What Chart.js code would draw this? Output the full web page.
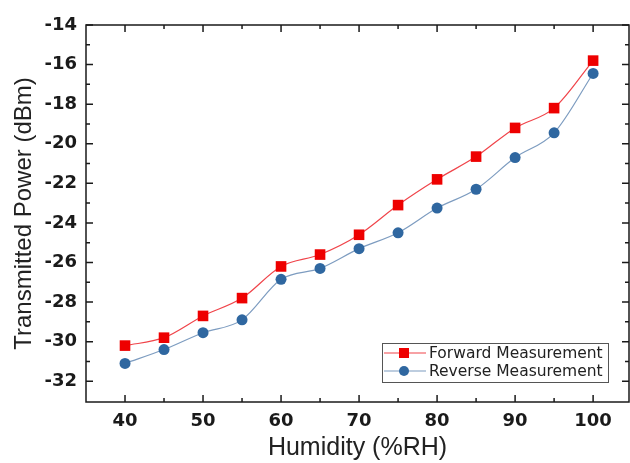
<!DOCTYPE html>
<html>
<head>
<meta charset="utf-8">
<script src="https://cdn.jsdelivr.net/npm/chart.js@4/dist/chart.umd.min.js"></script>
<style>
  html, body { margin: 0; padding: 0; background: #fff; }
  #wrap { width: 630px; height: 463px; }
</style>
</head>
<body>
<div id="wrap"><canvas id="myChart" width="630" height="463"></canvas></div>
<script>
"use strict";
// data
var humidity = [40, 45, 50, 55, 60, 65, 70, 75, 80, 85, 90, 95, 100];
var forward = [-30.2, -29.8, -28.7, -27.8, -26.2, -25.6, -24.6, -23.1, -21.8, -20.65, -19.2, -18.2, -15.8];
var reverse = [-31.1, -30.4, -29.55, -28.9, -26.85, -26.3, -25.3, -24.5, -23.25, -22.3, -20.7, -19.45, -16.45];

var xTicks = [40, 50, 60, 70, 80, 90, 100];
var xMinorTicks = [45, 55, 65, 75, 85, 95];
var yTicks = [-32, -30, -28, -26, -24, -22, -20, -18, -16, -14];
var yMinorTicks = [-31, -29, -27, -25, -23, -21, -19, -17, -15];

var seriesNames = ["Forward Measurement", "Reverse Measurement"];

function toPoints(ys) {
  return humidity.map(function (h, i) { return { x: h, y: ys[i] }; });
}

/* frame with inward ticks on all four sides */
var framePlugin = {
  id: "frame",
  afterDraw: function (chart) {
    var ctx = chart.ctx;
    var a = chart.chartArea;
    var xs = chart.scales.x, ys = chart.scales.y;
    ctx.save();
    ctx.strokeStyle = "#1a1a1a";
    ctx.lineWidth = 1.5;
    ctx.strokeRect(a.left, a.top, a.right - a.left, a.bottom - a.top);
    function tickX(v, len) {
      var p = xs.getPixelForValue(v);
      ctx.beginPath();
      ctx.moveTo(p, a.bottom); ctx.lineTo(p, a.bottom - len);
      ctx.moveTo(p, a.top); ctx.lineTo(p, a.top + len);
      ctx.stroke();
    }
    function tickY(v, len) {
      var p = ys.getPixelForValue(v);
      ctx.beginPath();
      ctx.moveTo(a.left, p); ctx.lineTo(a.left + len, p);
      ctx.moveTo(a.right, p); ctx.lineTo(a.right - len, p);
      ctx.stroke();
    }
    xTicks.forEach(function (v) { tickX(v, 7); });
    xMinorTicks.forEach(function (v) { tickX(v, 4); });
    yTicks.forEach(function (v) { tickY(v, 7); });
    yMinorTicks.forEach(function (v) { tickY(v, 4); });
    ctx.restore();
  }
};

/* legend box inside the plot, bottom right */
var legendPlugin = {
  id: "boxLegend",
  afterDraw: function (chart) {
    var ctx = chart.ctx;
    var a = chart.chartArea;
    var w = 226, h = 39;
    var x0 = a.right - 21 - w, y0 = a.bottom - 20 - h;
    ctx.save();
    ctx.fillStyle = "#fff";
    ctx.fillRect(x0, y0, w, h);
    ctx.strokeStyle = "#555";
    ctx.lineWidth = 1;
    ctx.strokeRect(x0 + 0.5, y0 + 0.5, w, h);
    ctx.font = "15.5px 'DejaVu Sans'";
    ctx.textBaseline = "middle";
    chart.data.datasets.forEach(function (ds, i) {
      var cy = y0 + 10 + i * 18;
      ctx.strokeStyle = ds.borderColor;
      ctx.lineWidth = 1.2;
      ctx.beginPath();
      ctx.moveTo(x0 + 2, cy); ctx.lineTo(x0 + 44, cy);
      ctx.stroke();
      ctx.fillStyle = ds.pointBackgroundColor;
      if (ds.pointStyle === "rect") {
        ctx.fillRect(x0 + 17, cy - 5, 10, 10);
      } else {
        ctx.beginPath();
        ctx.arc(x0 + 22, cy, 5, 0, Math.PI * 2);
        ctx.fill();
      }
      ctx.fillStyle = "#222";
      ctx.fillText(ds.label, x0 + 47, cy + 1);
    });
    ctx.restore();
  }
};

var ctx = document.getElementById("myChart");
var myChart = new Chart(ctx, {
  type: "line",
  data: {
    datasets: [
      {
        label: seriesNames[0],
        data: toPoints(forward),
        borderColor: "#f0444a",
        borderWidth: 1.2,
        pointStyle: "rect",
        pointRadius: 7.5,
        pointBorderWidth: 0,
        pointBackgroundColor: "#ee0000",
        pointBorderColor: "#ee0000",
        cubicInterpolationMode: "monotone",
        fill: false
      },
      {
        label: seriesNames[1],
        data: toPoints(reverse),
        borderColor: "#7d9cc0",
        borderWidth: 1.2,
        pointStyle: "circle",
        pointRadius: 5.5,
        pointBorderWidth: 0,
        pointBackgroundColor: "#2f67a0",
        pointBorderColor: "#2f67a0",
        cubicInterpolationMode: "monotone",
        fill: false
      }
    ]
  },
  options: {
    responsive: false,
    animation: false,
    devicePixelRatio: 1,
    layout: { autoPadding: false, padding: { top: 25, right: 1, left: 0, bottom: 0 } },
    plugins: {
      legend: { display: false },
      tooltip: { enabled: false }
    },
    scales: {
      x: {
        type: "linear",
        min: 35,
        max: 104.6,
        afterFit: function (scale) {
          scale.height = 61;
          scale.paddingRight = 0;
          scale.paddingLeft = 0;
        },
        afterBuildTicks: function (scale) {
          scale.ticks = xTicks.map(function (v) { return { value: v }; });
        },
        grid: { display: false, drawTicks: false },
        border: { display: false },
        ticks: {
          padding: 9,
          color: "#1a1a1a",
          font: { family: "'DejaVu Sans'", size: 18, weight: "bold" },
          maxRotation: 0
        },
        title: {
          display: true,
          text: "Humidity (%RH)",
          color: "#222",
          font: { family: "'Liberation Sans', Arial", size: 25 },
          padding: { top: 0, bottom: 0 }
        }
      },
      y: {
        type: "linear",
        min: -33.05,
        max: -14,
        afterFit: function (scale) {
          scale.width = 86;
          scale.paddingTop = 0;
          scale.paddingBottom = 0;
        },
        afterBuildTicks: function (scale) {
          scale.ticks = yTicks.map(function (v) { return { value: v }; });
        },
        grid: { display: false, drawTicks: false },
        border: { display: false },
        ticks: {
          padding: 9,
          color: "#1a1a1a",
          font: { family: "'DejaVu Sans'", size: 18, weight: "bold" }
        },
        title: {
          display: true,
          text: "Transmitted Power (dBm)",
          color: "#222",
          font: { family: "'Liberation Sans', Arial", size: 24 },
          padding: { top: 10, bottom: 0 }
        }
      }
    }
  },
  plugins: [framePlugin, legendPlugin]
});
</script>
</body>
</html>
